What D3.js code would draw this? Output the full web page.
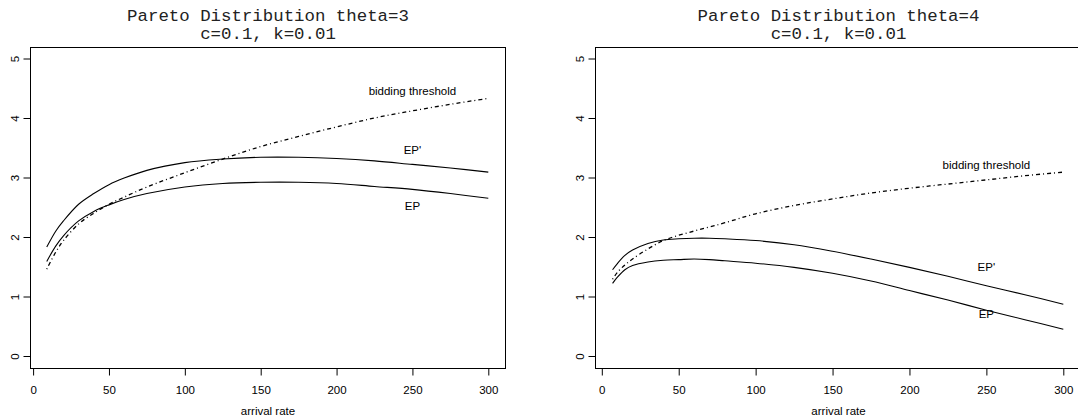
<!DOCTYPE html>
<html>
<head>
<meta charset="utf-8">
<script src="https://cdn.jsdelivr.net/npm/d3@7"></script>
<style>
  html, body { margin: 0; padding: 0; background: #fff; }
  svg { display: block; }
</style>
</head>
<body>
<svg id="chart" width="1078" height="419"></svg>
<script>
// ---- data ----
const xTicks = [0, 50, 100, 150, 200, 250, 300];
const yTicks = [0, 1, 2, 3, 4, 5];
const xLabel = "arrival rate";

// Panel 1: theta = 3
const title1 = ["Pareto Distribution theta=3", "c=0.1, k=0.01"];
const x1 = [9, 15, 20, 30, 40, 50, 60, 75, 100, 125, 150, 175, 200, 225, 250, 275, 300];
const ep1 = [1.59, 1.85, 2.02, 2.27, 2.43, 2.54, 2.63, 2.73, 2.84, 2.90, 2.92, 2.92, 2.90, 2.85, 2.80, 2.73, 2.65];
const epPrime1 = [1.83, 2.10, 2.27, 2.55, 2.73, 2.88, 2.99, 3.12, 3.25, 3.31, 3.34, 3.34, 3.32, 3.28, 3.22, 3.16, 3.09];
const thr1 = [1.46, 1.75, 1.94, 2.22, 2.40, 2.55, 2.67, 2.84, 3.08, 3.31, 3.52, 3.69, 3.85, 4.00, 4.12, 4.23, 4.33];
const labels1 = [
  { text: "bidding threshold", x: 250, y: 4.45 },
  { text: "EP'", x: 250, y: 3.47 },
  { text: "EP", x: 250, y: 2.52 }
];

// Panel 2: theta = 4
const title2 = ["Pareto Distribution theta=4", "c=0.1, k=0.01"];
const x2 = [7, 10, 15, 20, 30, 40, 50, 60, 70, 80, 100, 125, 150, 175, 200, 225, 250, 275, 300];
const ep2 = [1.22, 1.32, 1.45, 1.52, 1.58, 1.61, 1.62, 1.63, 1.62, 1.60, 1.56, 1.49, 1.39, 1.26, 1.10, 0.94, 0.77, 0.61, 0.45];
const epPrime2 = [1.45, 1.55, 1.69, 1.78, 1.89, 1.95, 1.97, 1.98, 1.98, 1.97, 1.94, 1.87, 1.76, 1.63, 1.49, 1.34, 1.18, 1.03, 0.87];
const thr2 = [1.29, 1.40, 1.53, 1.63, 1.80, 1.94, 2.03, 2.10, 2.17, 2.24, 2.39, 2.53, 2.64, 2.74, 2.82, 2.89, 2.96, 3.03, 3.09];
const labels2 = [
  { text: "bidding threshold", x: 250, y: 3.21 },
  { text: "EP'", x: 250, y: 1.49 },
  { text: "EP", x: 250, y: 0.71 }
];

// ---- layout ----
const panels = [
  { title: title1, xs: x1, ep: ep1, epp: epPrime1, thr: thr1, labels: labels1,
    xRange: [33.1, 488.3], xlim: [-2.3, 311.3] },
  { title: title2, xs: x2, ep: ep2, epp: epPrime2, thr: thr2, labels: labels2,
    xRange: [601.8, 1063.3], xlim: [-4.5, 311.7] }
];
const yRange = [356, 58.5];
const ylim = [-0.2, 5.2];

const svg = d3.select("#chart");
const sansFont = "'Liberation Sans', Arial, Helvetica, sans-serif";
const monoFont = "'Liberation Mono', 'Courier New', monospace";

panels.forEach(p => {
  const x = d3.scaleLinear().domain([0, 300]).range(p.xRange);
  const y = d3.scaleLinear().domain([0, 5]).range(yRange);
  const g = svg.append("g");

  const bx0 = Math.round(x(p.xlim[0])) + 0.5;
  const bx1 = Math.round(x(p.xlim[1])) + 0.5;
  const by0 = Math.round(y(ylim[1])) + 0.5;
  const by1 = Math.round(y(ylim[0])) + 0.5;

  // box
  g.append("rect")
    .attr("x", bx0).attr("y", by0)
    .attr("width", bx1 - bx0).attr("height", by1 - by0)
    .attr("fill", "none").attr("stroke", "#000").attr("stroke-width", 1);

  // x axis
  const xAxis = d3.axisBottom(x).tickValues(xTicks).tickSize(7).tickPadding(4).tickFormat(d3.format("d"));
  const gx = g.append("g").attr("transform", `translate(0,${by1})`).call(xAxis);
  gx.select(".domain").attr("d", `M${x(0)},0H${x(300)}`).attr("stroke", "#000");
  gx.selectAll(".tick line").attr("stroke", "#000");
  gx.selectAll("text").attr("font-family", sansFont).attr("font-size", 11.5).attr("fill", "#000")
    .attr("dy", null).attr("dominant-baseline", "alphabetic").attr("y", 25);

  // y axis
  const yAxis = d3.axisLeft(y).tickValues(yTicks).tickSize(7).tickFormat(d3.format("d"));
  const gy = g.append("g").attr("transform", `translate(${bx0},0)`).call(yAxis);
  gy.select(".domain").attr("d", `M0,${y(0)}V${y(5)}`).attr("stroke", "#000");
  gy.selectAll(".tick line").attr("stroke", "#000");
  gy.selectAll("text")
    .attr("font-family", sansFont).attr("font-size", 11.5).attr("fill", "#000")
    .attr("x", null).attr("dy", null)
    .attr("text-anchor", "middle")
    .attr("transform", "translate(-11.5,0) rotate(-90)");

  // x label
  g.append("text")
    .attr("x", (bx0 + bx1) / 2).attr("y", 415)
    .attr("text-anchor", "middle")
    .attr("font-family", sansFont).attr("font-size", 11.5).attr("fill", "#000")
    .text(xLabel);

  // title
  p.title.forEach((t, i) => {
    g.append("text")
      .attr("x", (bx0 + bx1) / 2).attr("y", 21 + i * 17.8)
      .attr("text-anchor", "middle")
      .attr("font-family", monoFont).attr("font-size", 17.4).attr("fill", "#222")
      .text(t);
  });

  // lines
  const line = d3.line().x(d => x(d[0])).y(d => y(d[1])).curve(d3.curveCatmullRom.alpha(0.5));
  const mk = vals => p.xs.map((xv, i) => [xv, vals[i]]);
  g.append("path").attr("d", line(mk(p.epp))).attr("fill", "none").attr("stroke", "#000").attr("stroke-width", 1.1);
  g.append("path").attr("d", line(mk(p.ep))).attr("fill", "none").attr("stroke", "#000").attr("stroke-width", 1.1);
  g.append("path").attr("d", line(mk(p.thr))).attr("fill", "none").attr("stroke", "#000").attr("stroke-width", 1.3)
    .attr("stroke-dasharray", "1,3,4,3");

  // curve labels
  p.labels.forEach(l => {
    g.append("text")
      .attr("x", x(l.x)).attr("y", y(l.y)).attr("dy", "0.36em")
      .attr("text-anchor", "middle")
      .attr("font-family", sansFont).attr("font-size", 11.5).attr("fill", "#000")
      .text(l.text);
  });
});
</script>
</body>
</html>
